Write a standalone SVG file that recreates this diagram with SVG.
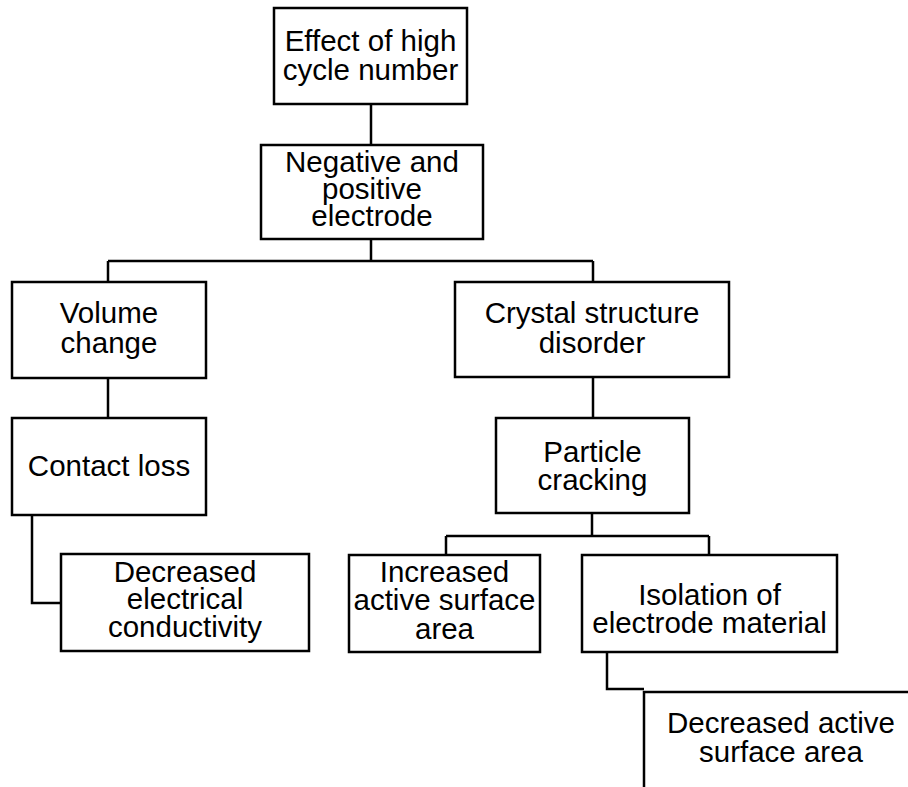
<svg xmlns="http://www.w3.org/2000/svg" width="908" height="787" viewBox="0 0 908 787">
<style>
.box{fill:#fff;stroke:#000;stroke-width:2.5}
.con{fill:none;stroke:#000;stroke-width:2.5}
text{font-family:"Liberation Sans",Arial,sans-serif;font-size:29.5px;fill:#000;text-anchor:middle}
</style>
<rect width="908" height="787" fill="#fff"/>
<g id="connectors">
<path class="con" d="M371 104V145"/>
<path class="con" d="M371 239V261M108 261H593M108 261V282M593 261V282"/>
<path class="con" d="M108 378V418"/>
<path class="con" d="M32 515V603H61"/>
<path class="con" d="M593 377V418"/>
<path class="con" d="M592 513V536M446 536H709M446 536V555M709 536V555"/>
<path class="con" d="M607 652V689H644"/>
</g>
<g id="n1"><rect class="box" x="274" y="8" width="193" height="96"/><text x="370.5" y="51">Effect of high</text><text x="370.5" y="80">cycle number</text></g>
<g id="n2"><rect class="box" x="261" y="145" width="222" height="94"/><text x="372" y="172">Negative and</text><text x="372" y="199">positive</text><text x="372" y="226">electrode</text></g>
<g id="n3"><rect class="box" x="12" y="282" width="194" height="96"/><text x="109" y="323">Volume</text><text x="109" y="353">change</text></g>
<g id="n4"><rect class="box" x="12" y="418" width="194" height="97"/><text x="109" y="476">Contact loss</text></g>
<g id="n5"><rect class="box" x="61" y="554" width="248" height="97"/><text x="185" y="582">Decreased</text><text x="185" y="609">electrical</text><text x="185" y="637">conductivity</text></g>
<g id="n6"><rect class="box" x="455" y="282" width="274" height="95"/><text x="592" y="323">Crystal structure</text><text x="592" y="353">disorder</text></g>
<g id="n7"><rect class="box" x="496" y="418" width="193" height="95"/><text x="592.5" y="462">Particle</text><text x="592.5" y="490">cracking</text></g>
<g id="n8"><rect class="box" x="349" y="555" width="191" height="97"/><text x="444.5" y="582">Increased</text><text x="444.5" y="610">active surface</text><text x="444.5" y="639">area</text></g>
<g id="n9"><rect class="box" x="582" y="555" width="255" height="97"/><text x="709.5" y="605">Isolation of</text><text x="709.5" y="633">electrode material</text></g>
<g id="n10"><rect class="box" x="644" y="692" width="270" height="100"/><text x="781" y="733">Decreased active</text><text x="781" y="762">surface area</text></g>
</svg>
